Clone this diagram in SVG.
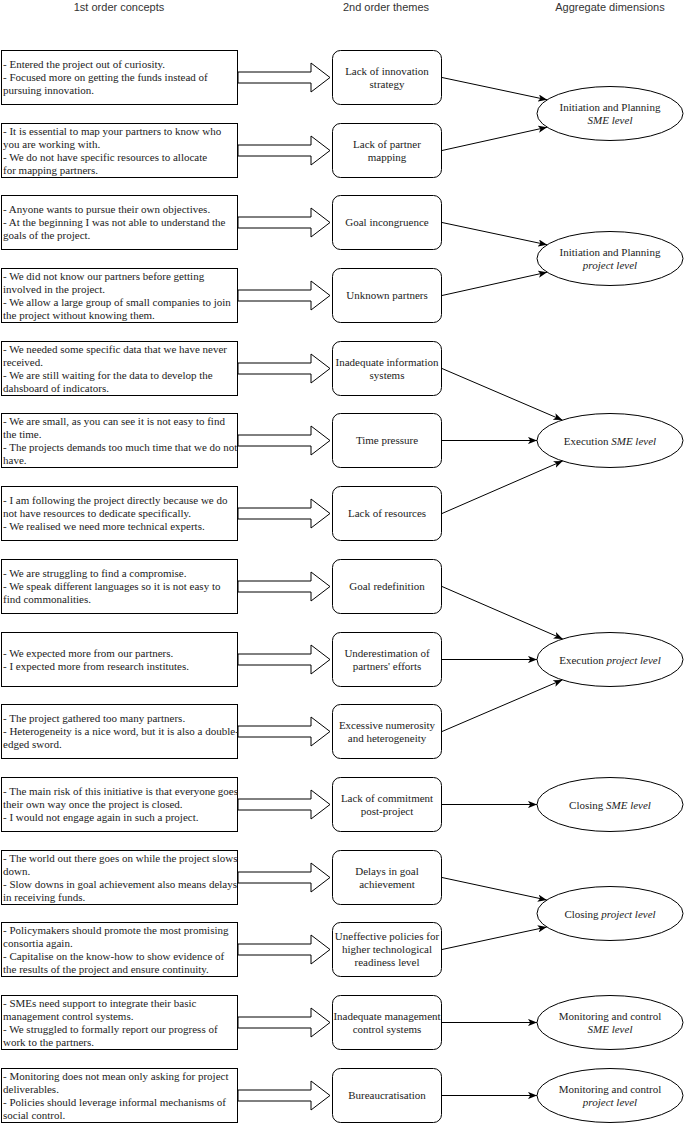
<svg xmlns="http://www.w3.org/2000/svg" width="685" height="1125" viewBox="0 0 685 1125">
<defs>
<style>
.hdr{font-family:'Liberation Sans',Arial,sans-serif;font-size:11px;fill:#333;text-anchor:middle}
.box{fill:#fff;stroke:#000;stroke-width:1}
.th{fill:#fff;stroke:#000;stroke-width:1}
.el{fill:#fff;stroke:#000;stroke-width:1}
.ha{fill:#fff;stroke:#000;stroke-width:1}
.t{font-family:'Liberation Serif','Times New Roman',Tinos,'DejaVu Serif',serif;font-size:11px;fill:#222}
.c{text-anchor:middle}
.i{font-style:italic}
.cn{stroke:#000;stroke-width:1;fill:none;marker-end:url(#arr)}
</style>
<marker id="arr" viewBox="0 0 10 8" refX="10" refY="4" markerWidth="9" markerHeight="7.2" markerUnits="userSpaceOnUse" orient="auto">
<path d="M0,0 L10,4 L0,8 L2.5,4 Z" fill="#000"/>
</marker>
</defs>
<rect width="685" height="1125" fill="#fff"/>

<g id="headers">
<text class="hdr" x="119" y="11">1st order concepts</text>
<text class="hdr" x="386" y="11">2nd order themes</text>
<text class="hdr" x="610" y="11">Aggregate dimensions</text>
</g>

<g font-family="Liberation Serif, Times New Roman, serif">
<!-- Row 1 -->
<g id="c1"><rect class="box" x="1.5" y="50.5" width="236" height="54"/>
<text class="t" x="3"><tspan x="3" y="68">- Entered the project out of curiosity.</tspan><tspan x="3" y="81">- Focused more on getting the funds instead of</tspan><tspan x="3" y="94">pursuing innovation.</tspan></text></g>
<g id="h1"><polygon class="ha" points="238,72 311,72 311,63 330,77.5 311,92 311,83 238,83"/></g>
<g id="t1"><rect class="th" x="332.5" y="50.5" width="109" height="54" rx="8"/>
<text class="t c"><tspan x="387" y="74.5">Lack of innovation</tspan><tspan x="387" y="87.5">strategy</tspan></text></g>

<!-- Row 2 -->
<g id="c2"><rect class="box" x="1.5" y="123.5" width="236" height="54"/>
<text class="t"><tspan x="3" y="134.5">- It is essential to map your partners to know who</tspan><tspan x="3" y="147.5">you are working with.</tspan><tspan x="3" y="160.5">- We do not have specific resources to allocate</tspan><tspan x="3" y="173.5">for mapping partners.</tspan></text></g>
<g id="h2"><polygon class="ha" points="238,145 311,145 311,136 330,150.5 311,165 311,156 238,156"/></g>
<g id="t2"><rect class="th" x="332.5" y="123.5" width="109" height="54" rx="8"/>
<text class="t c"><tspan x="387" y="147.5">Lack of partner</tspan><tspan x="387" y="160.5">mapping</tspan></text></g>

<!-- Row 3 -->
<g id="c3"><rect class="box" x="1.5" y="195.5" width="236" height="54"/>
<text class="t"><tspan x="3" y="213">- Anyone wants to pursue their own objectives.</tspan><tspan x="3" y="226">- At the beginning I was not able to understand the</tspan><tspan x="3" y="239">goals of the project.</tspan></text></g>
<g id="h3"><polygon class="ha" points="238,217 311,217 311,208 330,222.5 311,237 311,228 238,228"/></g>
<g id="t3"><rect class="th" x="332.5" y="195.5" width="109" height="54" rx="8"/>
<text class="t c"><tspan x="387" y="226">Goal incongruence</tspan></text></g>

<!-- Row 4 -->
<g id="c4"><rect class="box" x="1.5" y="268.5" width="236" height="54"/>
<text class="t"><tspan x="3" y="279.5">- We did not know our partners before getting</tspan><tspan x="3" y="292.5">involved in the project.</tspan><tspan x="3" y="305.5">- We allow a large group of small companies to join</tspan><tspan x="3" y="318.5">the project without knowing them.</tspan></text></g>
<g id="h4"><polygon class="ha" points="238,290 311,290 311,281 330,295.5 311,310 311,301 238,301"/></g>
<g id="t4"><rect class="th" x="332.5" y="268.5" width="109" height="54" rx="8"/>
<text class="t c"><tspan x="387" y="299">Unknown partners</tspan></text></g>

<!-- Row 5 -->
<g id="c5"><rect class="box" x="1.5" y="341.5" width="236" height="54"/>
<text class="t"><tspan x="3" y="352.5">- We needed some specific data that we have never</tspan><tspan x="3" y="365.5">received.</tspan><tspan x="3" y="378.5">- We are still waiting for the data to develop the</tspan><tspan x="3" y="391.5">dahsboard of indicators.</tspan></text></g>
<g id="h5"><polygon class="ha" points="238,363 311,363 311,354 330,368.5 311,383 311,374 238,374"/></g>
<g id="t5"><rect class="th" x="332.5" y="341.5" width="109" height="54" rx="8"/>
<text class="t c"><tspan x="387" y="365.5">Inadequate information</tspan><tspan x="387" y="378.5">systems</tspan></text></g>

<!-- Row 6 -->
<g id="c6"><rect class="box" x="1.5" y="413.5" width="236" height="54"/>
<text class="t"><tspan x="3" y="424.5">- We are small, as you can see it is not easy to find</tspan><tspan x="3" y="437.5">the time.</tspan><tspan x="3" y="450.5">- The projects demands too much time that we do not</tspan><tspan x="3" y="463.5">have.</tspan></text></g>
<g id="h6"><polygon class="ha" points="238,435 311,435 311,426 330,440.5 311,455 311,446 238,446"/></g>
<g id="t6"><rect class="th" x="332.5" y="413.5" width="109" height="54" rx="8"/>
<text class="t c"><tspan x="387" y="444">Time pressure</tspan></text></g>

<!-- Row 7 -->
<g id="c7"><rect class="box" x="1.5" y="486.5" width="236" height="54"/>
<text class="t"><tspan x="3" y="504">- I am following the project directly because we do</tspan><tspan x="3" y="517">not have resources to dedicate specifically.</tspan><tspan x="3" y="530">- We realised we need more technical experts.</tspan></text></g>
<g id="h7"><polygon class="ha" points="238,508 311,508 311,499 330,513.5 311,528 311,519 238,519"/></g>
<g id="t7"><rect class="th" x="332.5" y="486.5" width="109" height="54" rx="8"/>
<text class="t c"><tspan x="387" y="517">Lack of resources</tspan></text></g>

<!-- Row 8 -->
<g id="c8"><rect class="box" x="1.5" y="559.5" width="236" height="54"/>
<text class="t"><tspan x="3" y="577">- We are struggling to find a compromise.</tspan><tspan x="3" y="590">- We speak different languages so it is not easy to</tspan><tspan x="3" y="603">find commonalities.</tspan></text></g>
<g id="h8"><polygon class="ha" points="238,581 311,581 311,572 330,586.5 311,601 311,592 238,592"/></g>
<g id="t8"><rect class="th" x="332.5" y="559.5" width="109" height="54" rx="8"/>
<text class="t c"><tspan x="387" y="590">Goal redefinition</tspan></text></g>

<!-- Row 9 -->
<g id="c9"><rect class="box" x="1.5" y="632.5" width="236" height="54"/>
<text class="t"><tspan x="3" y="656.5">- We expected more from our partners.</tspan><tspan x="3" y="669.5">- I expected more from research institutes.</tspan></text></g>
<g id="h9"><polygon class="ha" points="238,654 311,654 311,645 330,659.5 311,674 311,665 238,665"/></g>
<g id="t9"><rect class="th" x="332.5" y="632.5" width="109" height="54" rx="8"/>
<text class="t c"><tspan x="387" y="656.5">Underestimation of</tspan><tspan x="387" y="669.5">partners' efforts</tspan></text></g>

<!-- Row 10 -->
<g id="c10"><rect class="box" x="1.5" y="704.5" width="236" height="54"/>
<text class="t"><tspan x="3" y="722">- The project gathered too many partners.</tspan><tspan x="3" y="735">- Heterogeneity is a nice word, but it is also a double-</tspan><tspan x="3" y="748">edged sword.</tspan></text></g>
<g id="h10"><polygon class="ha" points="238,726 311,726 311,717 330,731.5 311,746 311,737 238,737"/></g>
<g id="t10"><rect class="th" x="332.5" y="704.5" width="109" height="54" rx="8"/>
<text class="t c"><tspan x="387" y="728.5">Excessive numerosity</tspan><tspan x="387" y="741.5">and heterogeneity</tspan></text></g>

<!-- Row 11 -->
<g id="c11"><rect class="box" x="1.5" y="777.5" width="236" height="54"/>
<text class="t"><tspan x="3" y="795">- The main risk of this initiative is that everyone goes</tspan><tspan x="3" y="808">their own way once the project is closed.</tspan><tspan x="3" y="821">- I would not engage again in such a project.</tspan></text></g>
<g id="h11"><polygon class="ha" points="238,799 311,799 311,790 330,804.5 311,819 311,810 238,810"/></g>
<g id="t11"><rect class="th" x="332.5" y="777.5" width="109" height="54" rx="8"/>
<text class="t c"><tspan x="387" y="801.5">Lack of commitment</tspan><tspan x="387" y="814.5">post-project</tspan></text></g>

<!-- Row 12 -->
<g id="c12"><rect class="box" x="1.5" y="850.5" width="236" height="54"/>
<text class="t"><tspan x="3" y="861.5">- The world out there goes on while the project slows</tspan><tspan x="3" y="874.5">down.</tspan><tspan x="3" y="887.5">- Slow downs in goal achievement also means delays</tspan><tspan x="3" y="900.5">in receiving funds.</tspan></text></g>
<g id="h12"><polygon class="ha" points="238,872 311,872 311,863 330,877.5 311,892 311,883 238,883"/></g>
<g id="t12"><rect class="th" x="332.5" y="850.5" width="109" height="54" rx="8"/>
<text class="t c"><tspan x="387" y="874.5">Delays in goal</tspan><tspan x="387" y="887.5">achievement</tspan></text></g>

<!-- Row 13 -->
<g id="c13"><rect class="box" x="1.5" y="922.5" width="236" height="54"/>
<text class="t"><tspan x="3" y="933.5">- Policymakers should promote the most promising</tspan><tspan x="3" y="946.5">consortia again.</tspan><tspan x="3" y="959.5">- Capitalise on the know-how to show evidence of</tspan><tspan x="3" y="972.5">the results of the project and ensure continuity.</tspan></text></g>
<g id="h13"><polygon class="ha" points="238,944 311,944 311,935 330,949.5 311,964 311,955 238,955"/></g>
<g id="t13"><rect class="th" x="332.5" y="922.5" width="109" height="54" rx="8"/>
<text class="t c"><tspan x="387" y="940">Uneffective policies for</tspan><tspan x="387" y="953">higher technological</tspan><tspan x="387" y="966">readiness level</tspan></text></g>

<!-- Row 14 -->
<g id="c14"><rect class="box" x="1.5" y="995.5" width="236" height="54"/>
<text class="t"><tspan x="3" y="1006.5">- SMEs need support to integrate their basic</tspan><tspan x="3" y="1019.5">management control systems.</tspan><tspan x="3" y="1032.5">- We struggled to formally report our progress of</tspan><tspan x="3" y="1045.5">work to the partners.</tspan></text></g>
<g id="h14"><polygon class="ha" points="238,1017 311,1017 311,1008 330,1022.5 311,1037 311,1028 238,1028"/></g>
<g id="t14"><rect class="th" x="332.5" y="995.5" width="109" height="54" rx="8"/>
<text class="t c"><tspan x="387" y="1019.5">Inadequate management</tspan><tspan x="387" y="1032.5">control systems</tspan></text></g>

<!-- Row 15 -->
<g id="c15"><rect class="box" x="1.5" y="1068.5" width="236" height="54"/>
<text class="t"><tspan x="3" y="1079.5">- Monitoring does not mean only asking for project</tspan><tspan x="3" y="1092.5">deliverables.</tspan><tspan x="3" y="1105.5">- Policies should leverage informal mechanisms of</tspan><tspan x="3" y="1118.5">social control.</tspan></text></g>
<g id="h15"><polygon class="ha" points="238,1090 311,1090 311,1081 330,1095.5 311,1110 311,1101 238,1101"/></g>
<g id="t15"><rect class="th" x="332.5" y="1068.5" width="109" height="54" rx="8"/>
<text class="t c"><tspan x="387" y="1099">Bureaucratisation</tspan></text></g>

<!-- Aggregate dimensions -->
<g id="d1"><ellipse class="el" cx="610" cy="113.5" rx="73" ry="27"/>
<text class="t c"><tspan x="610" y="111">Initiation and Planning</tspan><tspan x="610" y="124" class="i">SME level</tspan></text></g>
<g id="d2"><ellipse class="el" cx="610" cy="258.5" rx="73" ry="27"/>
<text class="t c"><tspan x="610" y="256">Initiation and Planning</tspan><tspan x="610" y="269" class="i">project level</tspan></text></g>
<g id="d3"><ellipse class="el" cx="610" cy="440.5" rx="73" ry="27"/>
<text class="t c" x="610" y="444.5">Execution <tspan class="i">SME level</tspan></text></g>
<g id="d4"><ellipse class="el" cx="610" cy="659.5" rx="73" ry="27"/>
<text class="t c" x="610" y="663.5">Execution <tspan class="i">project level</tspan></text></g>
<g id="d5"><ellipse class="el" cx="610" cy="804.5" rx="73" ry="27"/>
<text class="t c" x="610" y="808.5">Closing <tspan class="i">SME level</tspan></text></g>
<g id="d6"><ellipse class="el" cx="610" cy="913.5" rx="73" ry="27"/>
<text class="t c" x="610" y="917.5">Closing <tspan class="i">project level</tspan></text></g>
<g id="d7"><ellipse class="el" cx="610" cy="1022.5" rx="73" ry="27"/>
<text class="t c"><tspan x="610" y="1020">Monitoring and control</tspan><tspan x="610" y="1033" class="i">SME level</tspan></text></g>
<g id="d8"><ellipse class="el" cx="610" cy="1095.5" rx="73" ry="27"/>
<text class="t c"><tspan x="610" y="1093">Monitoring and control</tspan><tspan x="610" y="1106" class="i">project level</tspan></text></g>
</g>

<g id="connectors">
<line class="cn" x1="442" y1="77.5" x2="547.1" y2="99.8"/>
<line class="cn" x1="442" y1="150.5" x2="547.1" y2="127.2"/>
<line class="cn" x1="442" y1="222.5" x2="547.1" y2="244.8"/>
<line class="cn" x1="442" y1="295.5" x2="547.1" y2="272.2"/>
<line class="cn" x1="442" y1="368.5" x2="562.3" y2="420.1"/>
<line class="cn" x1="442" y1="440.5" x2="537" y2="440.5"/>
<line class="cn" x1="442" y1="513.5" x2="562.7" y2="460.9"/>
<line class="cn" x1="442" y1="586.5" x2="562.7" y2="638.9"/>
<line class="cn" x1="442" y1="659.5" x2="537" y2="659.5"/>
<line class="cn" x1="442" y1="731.5" x2="562.3" y2="679.9"/>
<line class="cn" x1="442" y1="804.5" x2="537" y2="804.5"/>
<line class="cn" x1="442" y1="877.5" x2="546.8" y2="900"/>
<line class="cn" x1="442" y1="949.5" x2="546.8" y2="927"/>
<line class="cn" x1="442" y1="1022.5" x2="537" y2="1022.5"/>
<line class="cn" x1="442" y1="1095.5" x2="537" y2="1095.5"/>
</g>
</svg>
